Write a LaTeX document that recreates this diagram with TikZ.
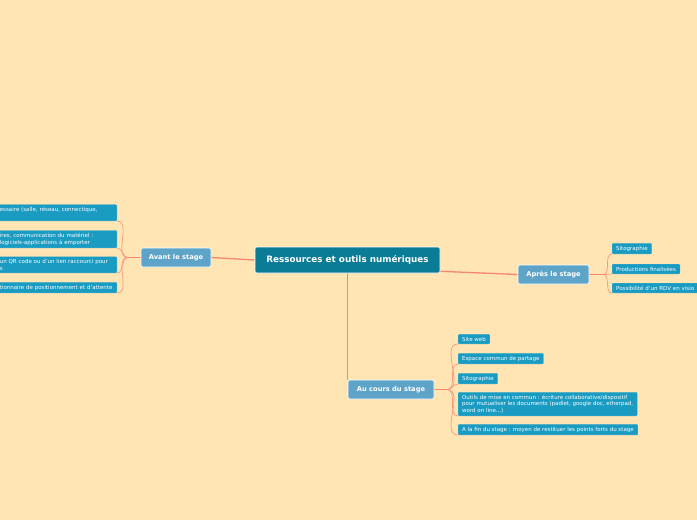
\documentclass[tikz,border=0pt]{standalone}
\usepackage{fontspec}
\setmainfont{DejaVu Sans}
\usetikzlibrary{backgrounds}
\definecolor{fond}{HTML}{FFE4B4}
\definecolor{racine}{HTML}{0B7C95}
\definecolor{branche}{HTML}{5EA4C8}
\definecolor{feuille}{HTML}{1A9BC1}
\definecolor{lien}{HTML}{F4876E}

\begin{document}
\begin{tikzpicture}[x=1pt, y=-1pt, line cap=round, line join=round,
    racine/.style={fill=racine, draw=white, line width=0.6pt, rounded corners=2pt, text=white,
        font=\bfseries\fontsize{8.8}{10}\selectfont, minimum width=185pt, minimum height=26pt, inner sep=0pt},
    branche/.style={fill=branche, draw=white, line width=0.6pt, rounded corners=2pt, text=white,
        font=\bfseries\fontsize{6.7}{8}\selectfont, minimum height=19pt, inner sep=0pt},
    feuille/.style={fill=feuille, draw=feuille!85!white, line width=0.3pt, rounded corners=1pt, text=white,
        font=\fontsize{5.5}{6.6}\selectfont, align=left, inner xsep=4pt, inner ysep=2.6pt, anchor=south west},
    lien/.style={draw=lien, line width=1.3pt},
    fil/.style={draw=lien!80!fond, line width=0.7pt}]

    \useasboundingbox (0,0) rectangle (697,520);

    % centre et branches
    \node[racine] (centre) at (347.5,260) {Ressources et outils numériques};
    \node[branche, minimum width=70pt] (avant) at (176,257.5) {Avant le stage};
    \node[branche, minimum width=71pt] (apres) at (553.5,274.5) {Après le stage};
    \node[branche, minimum width=86pt] (cours) at (391,389.5) {Au cours du stage};

    % avant le stage
    \node[feuille, anchor=south east, text width=113pt] (a1) at (117,221) {essaire (salle, réseau, connectique,\\\mbox{}};
    \node[feuille, anchor=south east, text width=113pt] (a2) at (117,248) {ires, communication du matériel :\\logiciels-applications à emporter};
    \node[feuille, anchor=south east, text width=113pt] (a3) at (117,273) {un QR code ou d'un lien raccourci pour\\s};
    \node[feuille, anchor=south east, text width=113pt] (a4) at (117,293) {tionnaire de positionnement et d'attente};

    % apres le stage
    \node[feuille] (p1) at (612,254) {Sitographie};
    \node[feuille] (p2) at (612,274) {Productions finalisées};
    \node[feuille, text width=92pt] (p3) at (612,293) {Possibilité d'un RDV en visio};

    % au cours du stage
    \node[feuille] (c1) at (458,344) {Site web};
    \node[feuille] (c2) at (458,364) {Espace commun de partage};
    \node[feuille] (c3) at (458,384) {Sitographie};
    \node[feuille] (c4) at (458,416) {Outils de mise en commun : écriture collaborative/dispositif\\pour mutualiser les documents (padlet, google doc, etherpad,\\word on line...)};
    \node[feuille] (c5) at (458,435) {A la fin du stage : moyen de restituer les points forts du stage};

    \coordinate (jAvant) at (128,257.5);
    \coordinate (jApres) at (603,274.5);
    \coordinate (jCours) at (447,389.5);

    \begin{scope}[on background layer]
        \fill[fond] (0,0) rectangle (697,520);
        \draw[lien] (centre.west) -- (avant.east);
        \draw[lien] ([yshift=2pt]centre.south east) -- (apres.west);
        \draw[lien] (centre.south) -- (centre.south |- cours.north);
        \draw[lien] (avant.west) -- (jAvant);
        \draw[lien] (apres.east) -- (jApres);
        \draw[lien] (cours.east) -- (jCours);
        \foreach \f in {a1,a2,a3,a4}
            \draw[fil] (jAvant) to[out=180, in=0] (\f.south east);
        \foreach \f in {p1,p2,p3}
            \draw[fil] (jApres) to[out=0, in=180] (\f.south west);
        \foreach \f in {c1,c2,c3,c4,c5}
            \draw[fil] (jCours) to[out=0, in=180] (\f.south west);
    \end{scope}
\end{tikzpicture}
\end{document}
